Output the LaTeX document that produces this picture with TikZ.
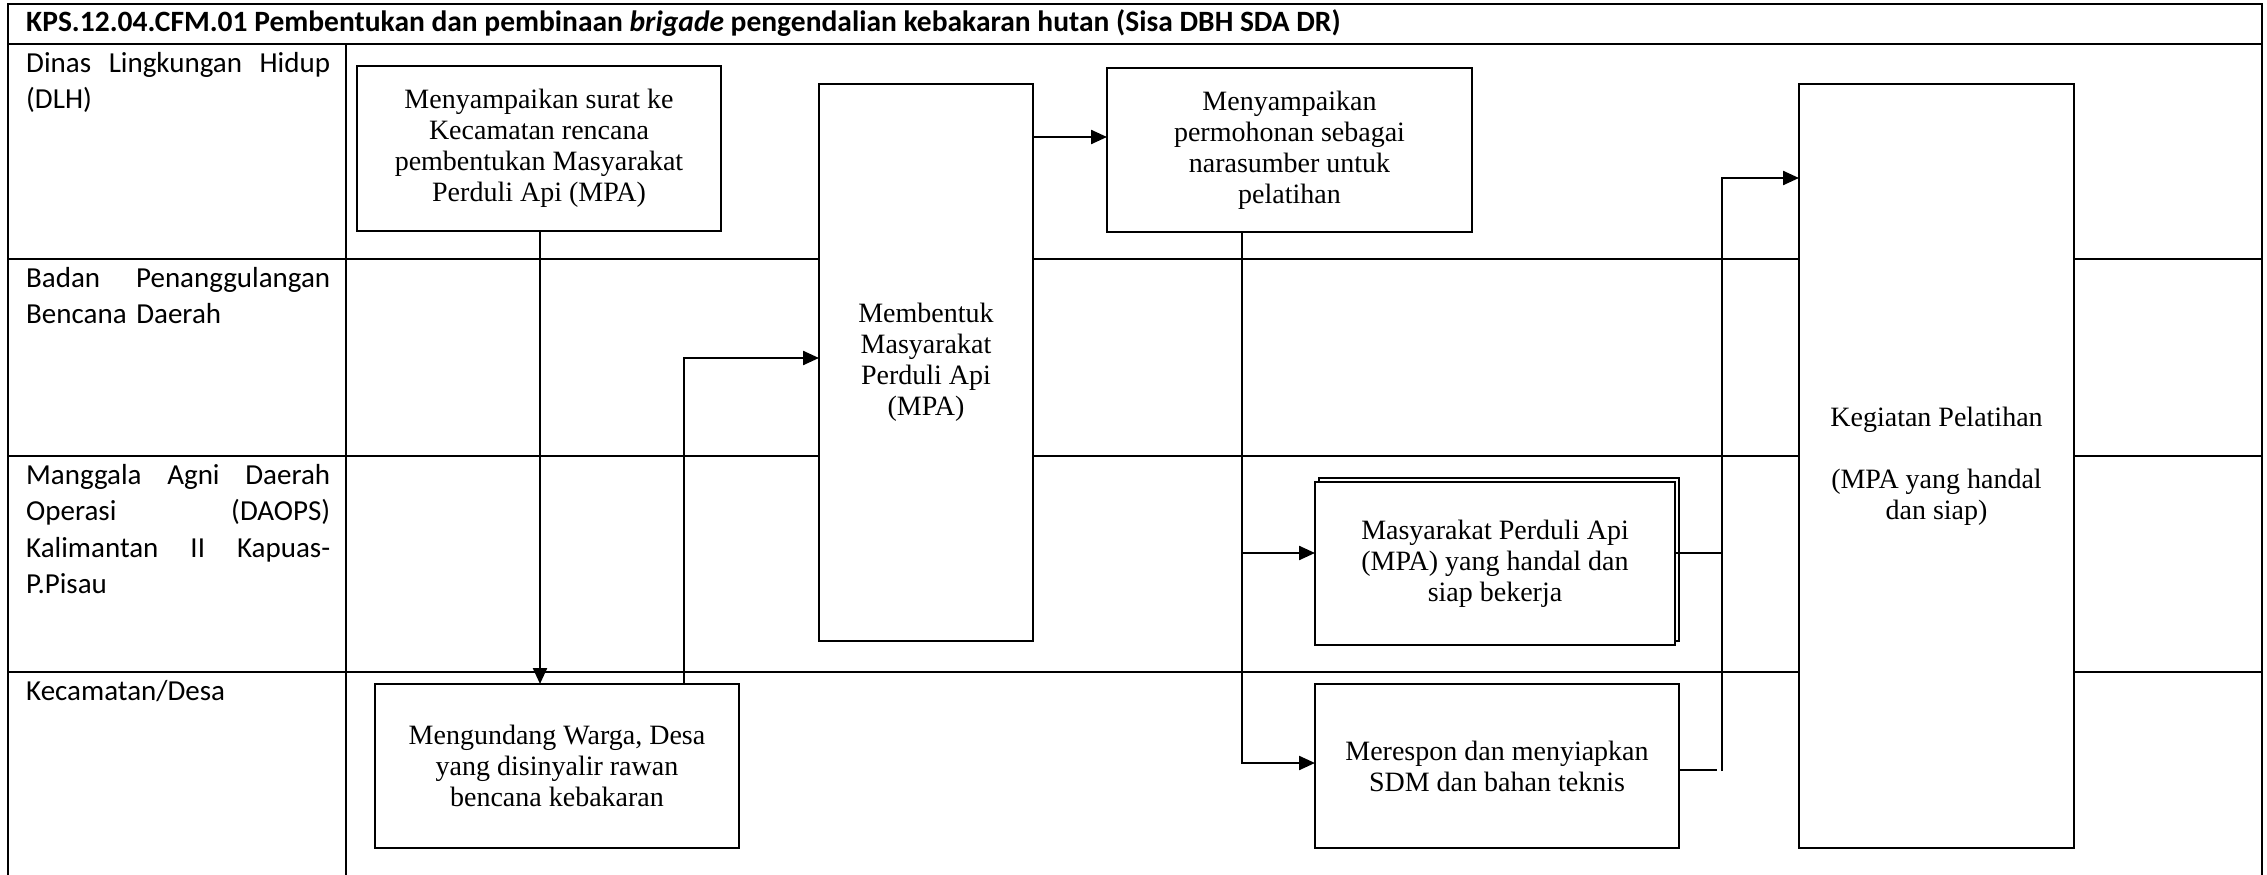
\documentclass[tikz,border=0pt]{standalone}
\usepackage{fontspec}
\setmainfont{Liberation Serif}
\newfontfamily\labfont{Carlito}
\usetikzlibrary{arrows.meta,shadows}
\begin{document}
\begin{tikzpicture}[x=1pt,y=-1pt,
  tbl/.style={line width=2.6pt},
  proc/.style={draw, line width=1.9pt, fill=white, inner sep=0pt, outer sep=0pt, align=center, font=\fontsize{28}{31}\selectfont},
  arr/.style={line width=2.3pt, -{Triangle[length=16pt,width=14pt]}},
  conn/.style={line width=2.3pt},
  lane/.style={anchor=base west, inner sep=0pt, text width=304pt, align=left, font=\labfont\fontsize{29}{36.5}\selectfont}]
\useasboundingbox (0,0) rectangle (2267,875);
% table
\draw[tbl] (8,875) -- (8,4) -- (2262,4) -- (2262,875);
\draw[tbl] (8,44) -- (2262,44);
\draw[tbl] (346,44) -- (346,875);
\draw[tbl] (8,259) -- (2262,259);
\draw[tbl] (8,456) -- (2262,456);
\draw[tbl] (8,672) -- (2262,672);
% title and lanes
\node[anchor=base west, inner sep=0pt, font=\labfont\bfseries\fontsize{29.5}{35}\selectfont] (title) at (26,32) {KPS.12.04.CFM.01 Pembentukan dan pembinaan \textit{brigade} pengendalian kebakaran hutan (Sisa DBH SDA DR)};
\node[lane] (l1) at (26,72) {Dinas\hfill Lingkungan\hfill Hidup\\(DLH)};
\node[lane] (l2) at (26,287) {Badan\hfill Penanggulangan\\Bencana Daerah};
\node[lane] (l3) at (26,484) {Manggala\hfill Agni\hfill Daerah\\Operasi\hfill (DAOPS)\\Kalimantan\hfill II\hfill Kapuas-\\P.Pisau};
\node[lane] (l4) at (26,700) {Kecamatan/Desa};
% boxes
\node[proc, minimum width=364pt, minimum height=165pt] (A) at (539,148.5) {Menyampaikan surat ke\\Kecamatan rencana\\pembentukan Masyarakat\\Perduli Api (MPA)};
\node[proc, minimum width=214pt, minimum height=557pt] (B) at (926,362.5) {Membentuk\\Masyarakat\\Perduli Api\\(MPA)};
\node[proc, minimum width=365pt, minimum height=164pt] (C) at (1289.5,150) {Menyampaikan\\permohonan sebagai\\narasumber untuk\\pelatihan};
\node[proc, minimum width=275pt, minimum height=764pt] (D) at (1936.5,466) {Kegiatan Pelatihan\\\mbox{}\\(MPA yang handal\\dan siap)};
\node[proc, minimum width=360pt, minimum height=163pt, copy shadow={shadow xshift=4pt, shadow yshift=4pt, draw=black, fill=white, line width=1.9pt}] (E) at (1495,563.5) {Masyarakat Perduli Api\\(MPA) yang handal dan\\siap bekerja};
\node[proc, minimum width=364pt, minimum height=164pt] (F) at (1497,766) {Merespon dan menyiapkan\\SDM dan bahan teknis};
\node[proc, minimum width=364pt, minimum height=164pt] (G) at (557,766) {Mengundang Warga, Desa\\yang disinyalir rawan\\bencana kebakaran};
% connectors
\draw[arr] (540,0 |- A.south) -- (540,0 |- G.north);
\draw[arr] (684,0 |- G.north) |- (B.west |- 0,358);
\draw[arr] (B.east |- 0,137) -- (C.west |- 0,137);
\draw[arr] (1242,0 |- C.south) |- (E.west |- 0,553);
\draw[arr] (1242,0 |- C.south) |- (F.west |- 0,763);
\draw[conn] (E.east |- 0,553) -- (1722,553);
\draw[conn] (F.east |- 0,770) -- (1717,770);
\draw[arr] (1722,771) |- (D.west |- 0,178);
\end{tikzpicture}
\end{document}
